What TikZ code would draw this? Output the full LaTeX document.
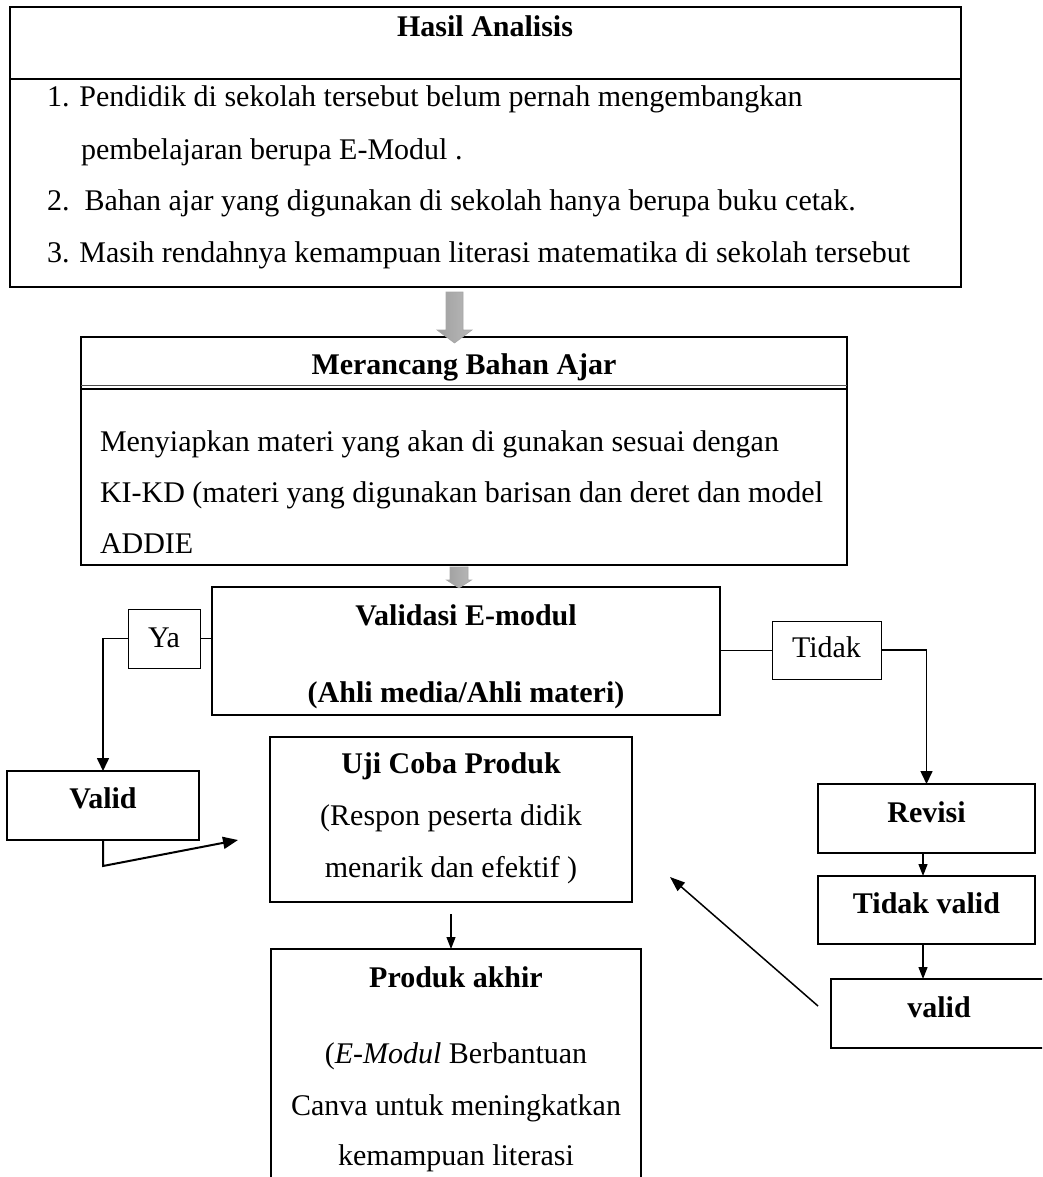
\documentclass[tikz,border=0pt]{standalone}
\usepackage{fontspec}
\setmainfont{Liberation Serif}
\usetikzlibrary{arrows.meta,calc}
\begin{document}
\begin{tikzpicture}[x=1pt,y=-1pt,
  every node/.style={font=\fontsize{30}{36}\selectfont, inner sep=0pt, outer sep=0pt},
  box/.style={draw, line width=#1, minimum width=0pt, minimum height=0pt},
  box/.default=1.3pt,
  txt/.style={anchor=base},
  txtl/.style={anchor=base west},
  bold/.style={font=\fontsize{30}{36}\selectfont\bfseries, anchor=base},
  conn/.style={line width=1.6pt, -{Triangle[length=13pt,width=12pt]}},
  thinconn/.style={line width=1.2pt, -{Triangle[length=12pt,width=9pt]}},
  blockarrow/.style={left color=gray!75, middle color=gray!18, right color=gray!55, draw=gray!70, line width=0.6pt}
]
\useasboundingbox (0,0) rectangle (1042,1177);
\clip (0,0) rectangle (1042,1177);

% ---------- boxes ----------
\node[box=1.3pt, minimum width=951pt, minimum height=280pt] (hasil) at (485.5,147) {};
\node[box=1.8pt, minimum width=766pt, minimum height=228pt] (merancang) at (464,451) {};
\node[box=2.2pt, minimum width=508pt, minimum height=128pt] (validasi) at (466,651) {};
\node[box=1pt, minimum width=72pt, minimum height=59pt] (ya) at (164,638.5) {};
\node[box=1pt, minimum width=109pt, minimum height=58pt] (tidak) at (826.5,650) {};
\node[box=2pt, minimum width=192pt, minimum height=69pt] (validL) at (103,805.5) {};
\node[box=1.3pt, minimum width=362pt, minimum height=165pt] (uji) at (451,819.5) {};
\node[box=1.3pt, minimum width=370pt, minimum height=251pt] (produk) at (456,1074.5) {};
\node[box=1.6pt, minimum width=217pt, minimum height=69pt] (revisi) at (926.5,818.5) {};
\node[box=1.6pt, minimum width=217pt, minimum height=68pt] (tidakvalid) at (926.5,910) {};
\node[box=1.6pt, minimum width=229pt, minimum height=69pt] (validR) at (945.5,1013.5) {};

% separators
\draw[line width=1.3pt] (hasil.west |- 0,79) -- (hasil.east |- 0,79);
\draw[line width=1pt, gray!60!black] (merancang.west |- 0,385) -- (merancang.east |- 0,385);
\draw[line width=1.2pt] (merancang.west |- 0,389) -- (merancang.east |- 0,389);

% ---------- texts ----------
\node[bold] (t-hasil) at (485,37) {Hasil Analisis};
\node[txtl] (t-h1) at (47,107) {1. Pendidik di sekolah tersebut belum pernah mengembangkan};
\node[txtl] (t-h2) at (81,160) {pembelajaran berupa E-Modul .};
\node[txtl] (t-h3) at (47,210) {2.\ \ Bahan ajar yang digunakan di sekolah hanya berupa buku cetak.};
\node[txtl] (t-h4) at (47,262) {3. Masih rendahnya kemampuan literasi matematika di sekolah tersebut};

\node[bold] (t-mer) at (464,374) {Merancang Bahan Ajar};
\node[txtl] (t-m1) at (100,451) {Menyiapkan materi yang akan di gunakan sesuai dengan};
\node[txtl] (t-m2) at (100,502) {KI-KD (materi yang digunakan barisan dan deret dan model};
\node[txtl] (t-m3) at (100,553) {ADDIE};

\node[bold] (t-val1) at (466,625) {Validasi E-modul};
\node[bold] (t-val2) at (466,702) {(Ahli media/Ahli materi)};

\node[txt] (t-ya) at (164,647) {Ya};
\node[txt] (t-tidak) at (826.5,657) {Tidak};

\node[bold] (t-validL) at (103,808) {Valid};

\node[bold] (t-uji) at (451,773) {Uji Coba Produk};
\node[txt] (t-u1) at (451,825) {(Respon peserta didik};
\node[txt] (t-u2) at (451,877) {menarik dan efektif )};

\node[bold] (t-prod) at (456,987) {Produk akhir};
\node[txt] (t-p1) at (456,1063) {(\textit{E-Modul} Berbantuan};
\node[txt] (t-p2) at (456,1115) {Canva untuk meningkatkan};
\node[txt] (t-p3) at (456,1165) {kemampuan literasi};

\node[bold] (t-rev) at (926.5,822) {Revisi};
\node[bold] (t-tv) at (926.5,913) {Tidak valid};
\node[bold] (t-vr) at (939,1017) {valid};

% ---------- block arrows ----------
\coordinate (a1) at (454.5,292);
\shade[blockarrow] ($(a1)+(-8.5,0)$) -- ($(a1)+(8.5,0)$) -- ($(a1)+(8.5,38)$) -- ($(a1)+(17.5,38)$)
  -- ($(a1)+(0,51)$) -- ($(a1)+(-17.5,38)$) -- ($(a1)+(-8.5,38)$) -- cycle;
\coordinate (a2) at (459,567);
\shade[blockarrow] ($(a2)+(-9,0)$) -- ($(a2)+(9,0)$) -- ($(a2)+(9,13)$) -- ($(a2)+(12.5,13)$)
  -- ($(a2)+(0,21)$) -- ($(a2)+(-12.5,13)$) -- ($(a2)+(-9,13)$) -- cycle;

% ---------- connectors ----------
\draw[line width=1pt] (ya.east) -- (ya.east -| validasi.west);
\draw[conn] (ya.west) -| (validL.north);
\draw[line width=1pt] (tidak.west -| validasi.east) -- (tidak.west);
\draw[conn] (tidak.east) -| (revisi.north);

\coordinate (ujiin) at (238,840);
\draw[line width=2pt, -{Triangle[length=15pt,width=12pt]}] (validL.south) -- ++(0,26) -- (ujiin);

\draw[thinconn] ($(uji.south)+(0,12)$) -- (uji.south |- produk.north);
\draw[thinconn] (revisi.south -| 923,0) -- (tidakvalid.north -| 923,0);
\draw[thinconn] (tidakvalid.south -| 923,0) -- (validR.north -| 923,0);

\coordinate (vrout) at (818,1006);
\coordinate (ujiback) at (670,877);
\draw[line width=1.5pt, -{Triangle[length=15pt,width=11pt]}] (vrout) -- (ujiback);
\end{tikzpicture}
\end{document}
